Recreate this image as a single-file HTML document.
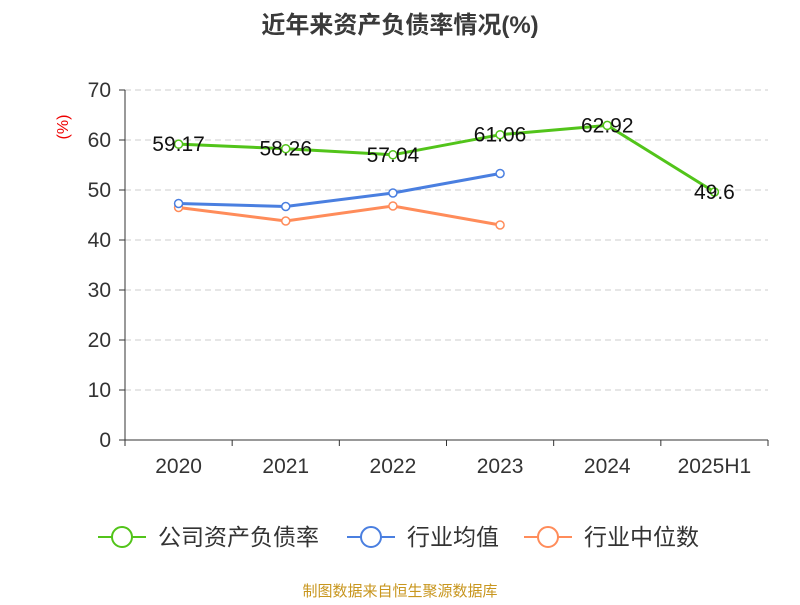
<!DOCTYPE html>
<html><head><meta charset="utf-8"><style>
body{margin:0;background:#fff;font-family:"Liberation Sans","Noto Sans CJK SC",sans-serif}
svg text{font-family:"Liberation Sans","Noto Sans CJK SC",sans-serif}
</style></head><body>
<svg id="chart" width="800" height="600">
<text x="400" y="33" text-anchor="middle" font-size="24" font-weight="bold" fill="#3a3a3a">近年来资产负债率情况(%)</text>
<text x="0" y="0" transform="translate(68,127) rotate(-90)" text-anchor="middle" font-size="16" fill="#e00">(%)</text>
<g id="grid"></g><g id="axes"></g><g id="series"></g>
<g>
<g><line x1="98" y1="537" x2="146" y2="537" stroke="#52c41a" stroke-width="2"/><circle cx="122" cy="537" r="10" fill="#fff" stroke="#52c41a" stroke-width="2"/><text x="158" y="545" font-size="23" fill="#333">公司资产负债率</text></g>
<g><line x1="347" y1="537" x2="395" y2="537" stroke="#4a7fe0" stroke-width="2"/><circle cx="371" cy="537" r="10" fill="#fff" stroke="#4a7fe0" stroke-width="2"/><text x="407" y="545" font-size="23" fill="#333">行业均值</text></g>
<g><line x1="524" y1="537" x2="572" y2="537" stroke="#ff8c5a" stroke-width="2"/><circle cx="548" cy="537" r="10" fill="#fff" stroke="#ff8c5a" stroke-width="2"/><text x="584" y="545" font-size="23" fill="#333">行业中位数</text></g>
</g>
<text x="400" y="596" text-anchor="middle" font-size="15" fill="#c8961e">制图数据来自恒生聚源数据库</text>
</svg>
<script>
const categories=["2020","2021","2022","2023","2024","2025H1"];
const companyValues=[59.17,58.26,57.04,61.06,62.92,49.6];
const industryAvg=[47.3,46.7,49.4,53.3];
const industryMedian=[46.5,43.8,46.8,43.0];
const yTicks=[0,10,20,30,40,50,60,70];
const NS="http://www.w3.org/2000/svg";
const x0=125,x1=768,yTop=90,yBot=440,yMax=70;
const band=(x1-x0)/categories.length;
const xs=i=>x0+band*(i+0.5);
const ys=v=>yBot-(v/yMax)*(yBot-yTop);
function mk(tag,attrs,parent){const e=document.createElementNS(NS,tag);for(const k in attrs)e.setAttribute(k,attrs[k]);parent.appendChild(e);return e;}
const grid=document.getElementById('grid'),axes=document.getElementById('axes'),ser=document.getElementById('series');
yTicks.forEach(t=>{
 if(t>0){const l=mk('line',{x1:x0,x2:x1,y1:ys(t),y2:ys(t),stroke:'#ccc','stroke-dasharray':'6,4'},grid);
 
 }
 mk('line',{x1:x0-6,x2:x0,y1:ys(t),y2:ys(t),stroke:'#333'},axes);
 const tx=mk('text',{x:x0-14,y:ys(t)+7,'text-anchor':'end','font-size':21,fill:'#333'},axes);tx.textContent=t;
 
 
});
mk('line',{x1:x0,x2:x0,y1:yTop,y2:yBot,stroke:'#333'},axes);
mk('line',{x1:x0,x2:x1,y1:yBot,y2:yBot,stroke:'#333'},axes);
for(let i=0;i<=categories.length;i++)mk('line',{x1:x0+band*i,x2:x0+band*i,y1:yBot,y2:yBot+6,stroke:'#333'},axes);
categories.forEach((c,i)=>{const t=mk('text',{x:xs(i),y:473,'text-anchor':'middle','font-size':21,fill:'#333'},axes);t.textContent=c;
 
 });
function series(vals,color,name,labels){
 const g=mk('g',{},ser);
 
 
 mk('polyline',{points:vals.map((v,i)=>xs(i)+','+ys(v)).join(' '),fill:'none',stroke:color,'stroke-width':3},g);
 vals.forEach((v,i)=>{const c=mk('circle',{cx:xs(i),cy:ys(v),r:4,fill:'#fff',stroke:color,'stroke-width':1.5},g);
  
  
  if(labels){const t=mk('text',{x:xs(i),y:ys(v)+7,'text-anchor':'middle','font-size':21,fill:'#111'},g);t.textContent=v;
   
   }
 });
}
series(industryMedian,'#ff8c5a','industry-median-line',false);
series(industryAvg,'#4a7fe0','industry-average-line',false);
series(companyValues,'#52c41a','company-debt-ratio-line',true);
</script>
</body></html>
